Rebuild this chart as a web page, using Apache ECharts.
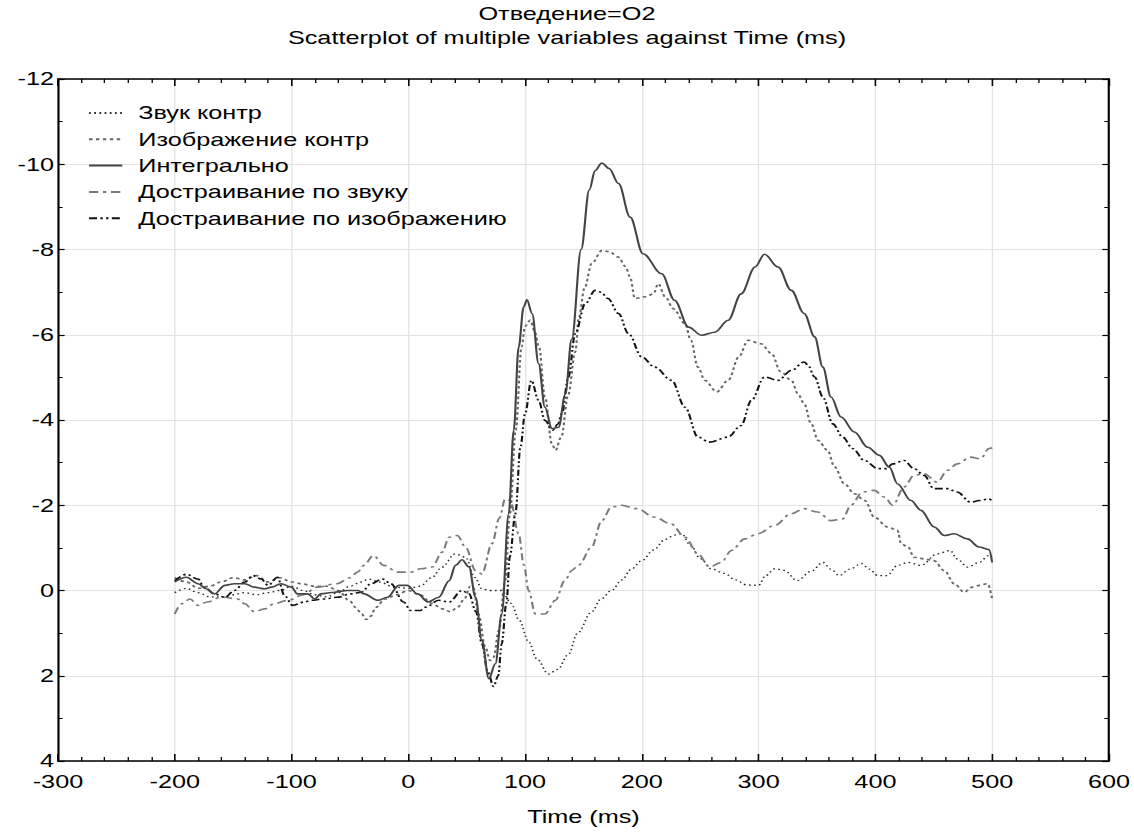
<!DOCTYPE html>
<html><head><meta charset="utf-8">
<script src="https://cdn.jsdelivr.net/npm/echarts@6/dist/echarts.min.js"></script>
<style>
html,body{margin:0;padding:0;background:#fff;overflow:hidden}
#wrap{width:1134px;height:839px;overflow:hidden;position:relative;background:#fff}
#chart{width:853px;height:839px;transform:scaleX(1.32943);transform-origin:0 0}
</style></head>
<body><div id="wrap"><div id="chart"></div></div>
<script>
// ---- data (time ms, amplitude) ----
const seriesNames = ['Звук контр', 'Изображение контр', 'Интегрально', 'Достраивание по звуку', 'Достраивание по изображению'];
const titleLine1 = 'Отведение=O2';
const titleLine2 = 'Scatterplot of multiple variables against Time (ms)';
const xAxisName = 'Time (ms)';
const xMin = -300, xMax = 600, xStep = 100;
const yMin = -12, yMax = 4, yStep = 2;

const zvukKontr = [[-200,0.05],[-190,-0.05],[-180,0.05],[-170,0.15],[-160,0.15],[-150,0.1],[-140,0.05],[-130,0.1],[-120,0.05],[-110,0],[-100,-0.1],[-90,0],[-80,0.1],[-70,0.15],[-60,0.05],[-50,-0.1],[-40,-0.2],[-34,-0.27],[-25,-0.2],[-12,-0.08],[0,-0.05],[10,-0.1],[20,-0.3],[29,-0.55],[40,-0.86],[49,-0.78],[57,-0.31],[63,-0.04],[70,0],[80,0],[88,0.3],[95,0.7],[103,1.2],[110,1.6],[120,1.96],[128,1.85],[137,1.5],[145,1.0],[157,0.5],[165,0.2],[174,0],[183,-0.25],[191,-0.5],[200,-0.7],[210,-0.95],[220,-1.2],[228,-1.3],[234,-1.33],[242,-1.05],[250,-0.75],[260,-0.5],[271,-0.4],[280,-0.25],[290,-0.13],[300,-0.12],[306,-0.35],[314,-0.51],[322,-0.47],[333,-0.23],[345,-0.45],[355,-0.66],[362,-0.5],[369,-0.35],[378,-0.5],[388,-0.63],[395,-0.5],[402,-0.35],[410,-0.35],[419,-0.59],[428,-0.66],[439,-0.59],[453,-0.86],[464,-0.94],[470,-0.74],[479,-0.55],[489,-0.66],[497,-0.82],[500,-0.8]];

const izobrKontr = [[-200,-0.3],[-190,-0.2],[-180,-0.05],[-170,-0.1],[-160,-0.2],[-150,-0.3],[-140,-0.25],[-130,-0.35],[-120,-0.2],[-110,-0.3],[-100,-0.2],[-90,-0.15],[-80,-0.1],[-70,-0.1],[-60,0],[-50,0.25],[-45,0.4],[-40,0.55],[-36,0.68],[-32,0.6],[-28,0.4],[-20,0.2],[-10,0.1],[0,0],[10,0.1],[20,0.3],[29,0.43],[36,0.5],[42,0.4],[48,0.2],[53,-0.1],[56,-0.05],[60,0.55],[66,1.33],[70,1.64],[73,1.57],[77.5,0.94],[83,-0.23],[87,-1.8],[92,-3.76],[97,-5.71],[100,-6.2],[104.5,-6.34],[108,-6.1],[112,-5.71],[117,-4.54],[123,-3.44],[126,-3.29],[131,-3.6],[137,-4.6],[143,-5.6],[146,-6.4],[151,-7.1],[157,-7.67],[166,-7.98],[172,-7.95],[180,-7.82],[186,-7.6],[190,-7.35],[194,-6.85],[203,-6.89],[210,-6.96],[214,-7.2],[220,-6.89],[227,-6.61],[237,-6.26],[242,-5.87],[248,-5.24],[254,-4.93],[264,-4.66],[274,-4.93],[283,-5.48],[291,-5.87],[302,-5.79],[311,-5.56],[319,-5.13],[328,-4.93],[334,-4.6],[339,-4.38],[345,-3.91],[351,-3.52],[359,-3.29],[365,-2.9],[373.5,-2.5],[382,-2.27],[391,-2.11],[399,-1.72],[410.5,-1.49],[419,-1.41],[422,-1.1],[428,-1.02],[433,-0.78],[442,-0.74],[450,-0.7],[459,-0.47],[467.5,-0.16],[476,0.04],[483,-0.08],[489,-0.12],[496,-0.16],[500,0.2]];

const integralno = [[-200,-0.2],[-190,-0.31],[-180,-0.16],[-173,-0.04],[-166,0.08],[-157,-0.12],[-149,-0.16],[-140,-0.16],[-132,-0.08],[-123,-0.04],[-117,-0.08],[-109,-0.16],[-100,-0.08],[-95,0.08],[-86,0.08],[-80,0.2],[-75,0.08],[-63,0.04],[-52,0],[-43,0],[-38,0.08],[-26,0.23],[-18,0.16],[-8,-0.12],[-1,-0.12],[8,0.08],[17,0.27],[26,0.16],[35,-0.23],[40.5,-0.59],[46,-0.72],[52,-0.55],[57.6,0.16],[63,1.17],[69,2.07],[74.6,1.72],[80,0.55],[86,-1.8],[90.3,-3.76],[94.5,-5.71],[98.8,-6.65],[101.6,-6.82],[106,-6.5],[111.6,-5.32],[117,-4.3],[123,-3.8],[128.7,-3.83],[134.4,-4.6],[140,-5.9],[148,-8.0],[155,-9.4],[160,-9.85],[165.7,-10.03],[172,-9.9],[180,-9.55],[190,-8.76],[201,-7.9],[217,-7.43],[228,-6.81],[240,-6.18],[251,-5.99],[262.5,-6.06],[274,-6.34],[285,-6.96],[297,-7.59],[305,-7.89],[316.6,-7.59],[328,-7.04],[339,-6.5],[348,-5.95],[355,-5.24],[362,-4.54],[370.6,-4.07],[382,-3.72],[393.4,-3.36],[403.4,-3.17],[412,-2.89],[419,-2.5],[430.4,-2.11],[439,-1.88],[450.4,-1.49],[459,-1.29],[467.5,-1.33],[478.8,-1.21],[488.8,-1.02],[497.3,-0.96],[500,-0.66]];

const dostZvuk = [[-200,0.55],[-194,0.31],[-187,0.2],[-180,0.35],[-172,0.27],[-160,0.15],[-146,0.2],[-140,0.31],[-132,0.5],[-123,0.43],[-115,0.31],[-103,0.23],[-90,0.1],[-78,-0.08],[-61,-0.16],[-50,-0.3],[-43.5,-0.43],[-38,-0.59],[-30,-0.82],[-21,-0.59],[-9,-0.43],[2,-0.43],[10.6,-0.51],[20.5,-0.55],[29,-0.9],[35,-1.25],[42,-1.29],[49,-1.02],[57.6,-0.47],[63,-0.39],[71.7,-1.1],[78,-1.7],[83,-2.15],[87.4,-2.11],[94.5,-1.33],[99,-0.6],[103,0],[108.8,0.55],[117,0.55],[126,0.23],[134,-0.23],[140,-0.47],[146,-0.6],[157,-1.02],[165.7,-1.64],[174,-1.96],[182.7,-2.0],[195.6,-1.92],[211,-1.72],[225,-1.56],[237,-1.25],[248,-0.86],[258,-0.55],[268,-0.66],[276.7,-0.94],[288,-1.21],[299.5,-1.33],[313.7,-1.53],[328,-1.8],[339,-1.92],[350.7,-1.84],[362,-1.64],[372,-1.68],[379,-2.0],[389,-2.31],[399,-2.35],[407.7,-2.19],[414.8,-2.0],[424.7,-2.43],[433,-2.7],[441.8,-2.74],[453,-2.54],[461.7,-2.82],[470,-2.97],[481.6,-3.13],[490,-3.09],[497.3,-3.33],[500,-3.35]];

const dostIzobr = [[-200,-0.23],[-190,-0.38],[-180,-0.27],[-175,-0.08],[-166,0.08],[-157,0.16],[-149,0],[-140,-0.2],[-133,-0.35],[-126,-0.27],[-120,-0.12],[-112,-0.31],[-106,0.12],[-99,0.35],[-89,0.27],[-83,0.23],[-73,0.2],[-61,0.16],[-49,0.08],[-40,0.04],[-32,-0.16],[-22,-0.27],[-15,-0.16],[-4,0.27],[2,0.47],[10,0.47],[15,0.39],[26,0.23],[35,0.27],[46,0],[52,0.08],[58,0.5],[63,1.25],[68,1.9],[73,2.25],[77,2.0],[80,1.25],[84,0.3],[87,-0.8],[91.7,-1.8],[96,-3.36],[100,-4.15],[105.4,-4.93],[111.6,-4.46],[117,-3.99],[123.6,-3.76],[128,-3.9],[131.5,-4.15],[137,-5.0],[143,-6.03],[151.5,-6.73],[160,-7.04],[165,-7.0],[171,-6.85],[180,-6.5],[188.5,-6.03],[200,-5.48],[211,-5.24],[225.5,-4.93],[237,-4.3],[248,-3.6],[258,-3.48],[273.8,-3.6],[285,-3.87],[293.8,-4.46],[305,-5.01],[316.6,-4.93],[328,-5.16],[339,-5.36],[342,-5.3],[348,-5.01],[355,-4.54],[363.5,-3.91],[372,-3.6],[380.6,-3.33],[390.6,-3.05],[402,-2.86],[409,-2.86],[414.8,-2.97],[424.7,-3.05],[433,-2.86],[441.8,-2.7],[450,-2.39],[461.7,-2.39],[470,-2.31],[481.6,-2.07],[488.8,-2.11],[497.3,-2.15],[500,-2.1]];

const seriesData = [zvukKontr, izobrKontr, integralno, dostZvuk, dostIzobr];

// ---- styles ----
const FONT = '"Liberation Sans", Arial, sans-serif';
const lineStyles = [
  {color:'#2a2a2a', width:1.3, type:[1.3, 2.6]},
  {color:'#666666', width:1.6, type:[2.6, 2.6]},
  {color:'#444444', width:1.6, type:'solid'},
  {color:'#7a7a7a', width:1.6, type:[7, 3.5, 2.5, 3.5]},
  {color:'#111111', width:1.6, type:[6, 2.5, 1.8, 2.5, 1.8, 2.5]}
];
const textBase = {fontSize:19, color:'#000', fontFamily:FONT, fontWeight:'normal'};
const gridColor = '#e3e3e3';

function xAxisDef(pos, main) {
  return {
    type:'value', min:xMin, max:xMax, interval:xStep, position:pos,
    axisLine:{show:true, onZero:false, lineStyle:{color:'#000', width:1.6}},
    axisTick:{show:true, inside:true, length:7, lineStyle:{color:'#000', width:1.2}},
    minorTick:{show:true, splitNumber:5, length:4, lineStyle:{color:'#000', width:1}},
    splitLine:{show:main, lineStyle:{color:gridColor, width:1}},
    minorSplitLine:{show:false},
    axisLabel:{show:main, margin:11, ...textBase},
    name: main ? xAxisName : '', nameLocation:'middle', nameGap:46,
    nameTextStyle:{...textBase}
  };
}
function yAxisDef(pos, main) {
  return {
    type:'value', min:yMin, max:yMax, interval:yStep, inverse:true, position:pos,
    axisLine:{show:true, onZero:false, lineStyle:{color:'#000', width:1.6}},
    axisTick:{show:true, inside:true, length:5, lineStyle:{color:'#000', width:1.2}},
    minorTick:{show:true, splitNumber:2, length:3.5, lineStyle:{color:'#000', width:1}},
    splitLine:{show:main, lineStyle:{color:gridColor, width:1}},
    axisLabel:{show:main, margin:3, ...textBase}
  };
}

const chart = echarts.init(document.getElementById('chart'), null, {renderer:'svg'});
chart.setOption({
  animation:false,
  backgroundColor:'#fff',
  title:[
    {text:titleLine1, left:'center', top:4, padding:0, textStyle:{...textBase}},
    {text:titleLine2, left:'center', top:28, padding:0, textStyle:{...textBase}}
  ],
  grid:{left:43.6, right:15, top:79, bottom:78, containLabel:false},
  legend:{
    orient:'vertical', left:66, top:103, padding:0,
    itemWidth:25, itemHeight:20, itemGap:6.3,
    selectedMode:false,
    itemStyle:{opacity:0},
    textStyle:{...textBase, lineHeight:20, padding:[0,0,0,7]},
    data:seriesNames
  },
  xAxis:[xAxisDef('bottom', true), xAxisDef('top', false)],
  yAxis:[yAxisDef('left', true), yAxisDef('right', false)],
  series: seriesNames.map((n, i) => ({
    name:n, type:'line', data:seriesData[i], xAxisIndex:0, yAxisIndex:0,
    symbol:'none', smooth:0.35, smoothMonotone:'x',
    lineStyle:lineStyles[i], itemStyle:{color:lineStyles[i].color},
    z: i === 2 ? 4 : 3
  }))
});
</script>
</body></html>
